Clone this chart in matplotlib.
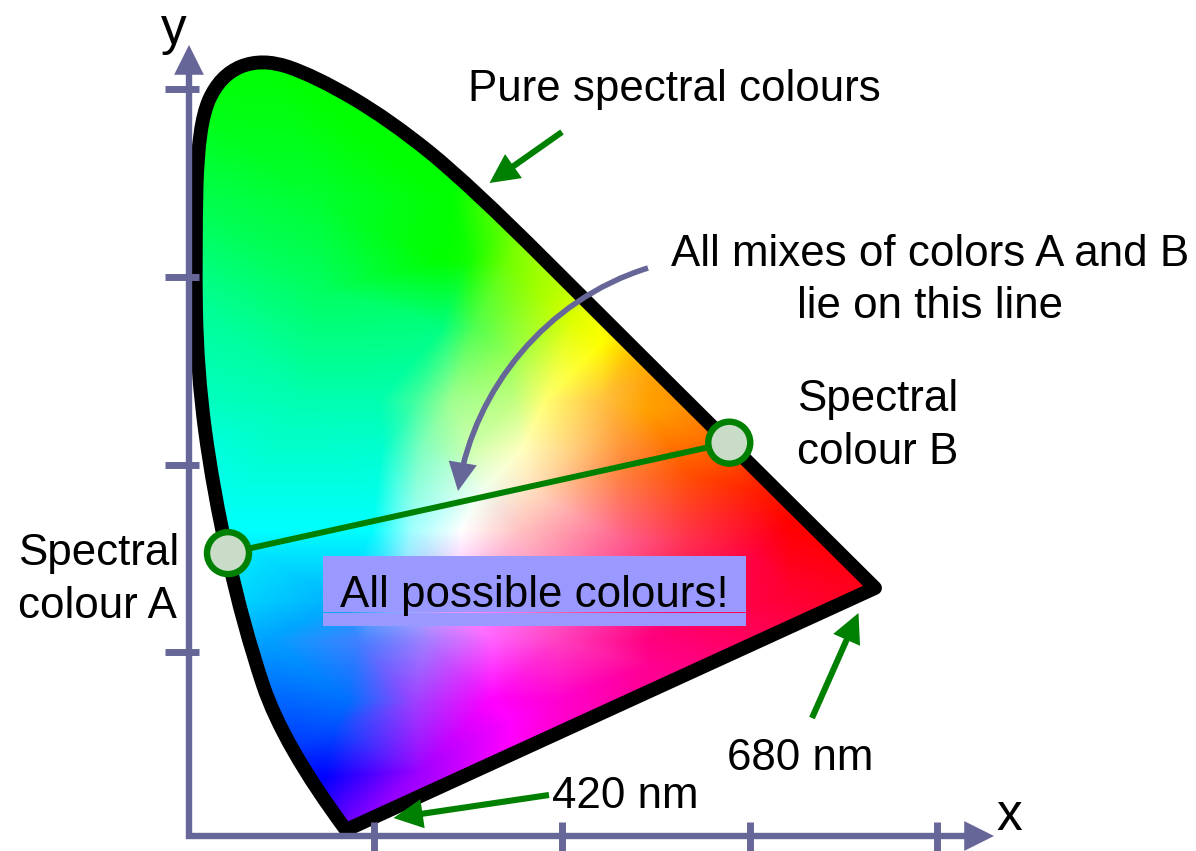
import numpy as np
import matplotlib
matplotlib.use('Agg')
import matplotlib.pyplot as plt
import matplotlib.tri as mtri
from matplotlib.colors import to_rgb
from matplotlib.patches import FancyArrowPatch, PathPatch, Rectangle, Circle
from matplotlib.path import Path

plt.rcParams['font.family'] = ['Liberation Sans', 'DejaVu Sans']

# spectral locus control points, from the 420 nm corner round to 680 nm
locus_x = [.1658, .0975, .0542, .0217, .0043, .0022, .0054, .0293, .0748, .1322, .2134, .3001, .4626, .7389]
locus_y = [.0027, .0949, .2251, .3715, .5016, .6318, .7676, .8216, .8400, .8205, .7728, .7023, .5396, .2652]

x_ticks = [.196, .400, .6035, .806]
y_ticks = [.196, .3986, .6025, .806]

mix_x = [.0379, .581]
mix_y = [.303, .4228]

# colour of the diagram at points (pixel x, pixel y, colour)
colour_points = [
    (265, 60, '#00ff00'), (150, 20, '#00ff00'), (500, 20, '#00ff00'), (190, 100, '#00ff10'), (190, 200, '#00ff50'),
    (190, 290, '#00ff90'), (320, 200, '#00ff30'), (320, 290, '#00ff60'), (450, 200, '#00ff00'), (440, 260, '#00ff00'),
    (467, 260, '#10ff00'), (507, 260, '#70ff00'), (540, 293, '#a8ff00'), (573, 320, '#e0ff00'), (600, 343, '#ffff00'),
    (627, 357, '#ffc000'), (653, 373, '#ffa000'), (687, 407, '#ff9000'), (703, 440, '#ff7000'),
    (473, 327, '#50ff50'), (440, 327, '#00ff80'), (507, 353, '#90ff50'),
    (520, 220, '#80ff00'), (600, 280, '#e0ff00'), (650, 340, '#ffb000'), (700, 380, '#ff9000'), (760, 440, '#ff4000'),
    (750, 100, '#ffa000'),
    (200, 400, '#00ffc0'), (300, 400, '#00ffb0'), (378, 400, '#00ffb0'), (414, 400, '#40ffa0'), (450, 400, '#a0ff90'),
    (512, 400, '#c0ff80'), (544, 400, '#ffff70'), (602, 400, '#ffc040'), (646, 410, '#ffa000'), (620, 440, '#ff9a38'),
    (200, 450, '#00ffe0'), (380, 450, '#00ffd0'), (420, 450, '#80ffc0'), (470, 450, '#d0ffb0'), (520, 450, '#ffffc0'),
    (570, 450, '#ffd080'), (620, 475, '#ff8040'), (687, 473, '#ff5000'), (753, 490, '#ff2000'),
    (480, 490, '#f0fff0'), (530, 490, '#ffe0c0'),
    (215, 530, '#00ffff'), (370, 530, '#00ffff'), (410, 530, '#a0ffff'), (460, 530, '#ffffff'), (520, 530, '#ffc0c0'),
    (620, 540, '#ff6090'), (687, 540, '#ff3050'), (787, 523, '#ff0000'), (753, 557, '#ff0040'), (860, 570, '#ff0010'),
    (225, 600, '#00d8ff'), (340, 600, '#00b0ff'), (400, 600, '#90c0ff'), (460, 600, '#ffa0ff'), (600, 600, '#ff40a0'),
    (787, 590, '#ff0030'),
    (267, 640, '#00a0ff'), (356, 640, '#4080ff'), (423, 640, '#a080ff'), (490, 640, '#ff60ff'), (557, 640, '#ff40c0'),
    (646, 640, '#ff0080'),
    (347, 700, '#0070ff'), (414, 700, '#a040ff'), (490, 700, '#ff00ff'), (557, 700, '#ff00d0'), (650, 665, '#ff0090'),
    (300, 740, '#0040ff'), (333, 727, '#0050ff'), (323, 777, '#0000ff'), (350, 807, '#6000ff'), (350, 830, '#8000ff'),
    (420, 770, '#a000ff'), (510, 720, '#ff00ff'),
    (150, 500, '#00ffff'), (150, 700, '#0080ff'), (150, 860, '#0000ff'), (500, 860, '#ff00ff'), (950, 700, '#ff0040'),
    (950, 520, '#ff0000'),
]


def px(x, y):
    # picture pixel to chromaticity position
    return (x - 193) / 923, (832.5 - y) / 922


def colour_field():
    xs = np.array([p[0] for p in colour_points], dtype=float)
    ys = np.array([p[1] for p in colour_points], dtype=float)
    rgb = np.array([to_rgb(p[2]) for p in colour_points])
    tri = mtri.Triangulation(xs, ys)
    gx, gy = np.meshgrid(np.arange(150, 950, 2.0), np.arange(20, 860, 2.0))
    img = np.zeros(gx.shape + (3,))
    for i in range(3):
        img[..., i] = mtri.LinearTriInterpolator(tri, rgb[:, i])(gx, gy).filled(1)
    return np.clip(img, 0, 1)


def locus_path():
    # quadratic curve pieces with the locus points as control points, closed by the straight purple line
    pts = np.column_stack([locus_x, locus_y])
    verts = [pts[0]]
    codes = [Path.MOVETO]
    for i in range(1, len(pts) - 1):
        end = pts[i + 1] if i == len(pts) - 2 else (pts[i] + pts[i + 1]) / 2
        verts += [pts[i], end]
        codes += [Path.CURVE3, Path.CURVE3]
    verts += [pts[0], pts[0]]
    codes += [Path.LINETO, Path.CLOSEPOLY]
    return Path(verts, codes)


def arrow(ax, start, end, color, lw, scale=14, path=None):
    kw = {'path': path} if path is not None else {'posA': px(*start), 'posB': px(*end)}
    ax.add_patch(FancyArrowPatch(arrowstyle='-|>,head_length=1.0,head_width=0.5', mutation_scale=scale, lw=lw,
                                 color=color, shrinkA=0, shrinkB=0, zorder=6, joinstyle='miter', capstyle='butt', **kw))


def label(ax, x, y, s, size=31.6, ha='left'):
    ax.text(*px(x, y + 3), s, fontsize=size, ha=ha, va='center', color='black', zorder=8)


def main():
    axis_color = '#666699'
    green = '#008000'
    fig = plt.figure(figsize=(11.96, 8.51), dpi=100)
    ax = fig.add_axes([0, 0, 1, 1])

    outline = locus_path()
    e0, n1 = px(150, 860)
    e1, n0 = px(950, 20)
    im = ax.imshow(colour_field(), extent=(e0, e1, n1, n0), aspect='auto', interpolation='bilinear', zorder=1)
    im.set_clip_path(PathPatch(outline, transform=ax.transData))
    ax.add_patch(PathPatch(outline, facecolor='none', edgecolor='black', lw=10, joinstyle='round', zorder=2))

    # box with the thin gap the picture shows near its bottom
    for top, bottom in [(556, 611.5), (612.5, 626)]:
        x0, y0 = px(323, bottom)
        x1, y1 = px(746, top)
        ax.add_patch(Rectangle((x0, y0), x1 - x0, y1 - y0, facecolor='#9999ff', edgecolor='none', zorder=3))

    # mixing line and the two spectral colours
    ax.plot(mix_x, mix_y, color=green, lw=4.3, zorder=4, solid_capstyle='butt')
    for mx, my in zip(mix_x, mix_y):
        ax.add_patch(Circle((mx, my), 21 / 923, facecolor='#c8dcc8', edgecolor=green, lw=4.6, zorder=5))

    # axes
    for t in x_ticks:
        ax.plot([t, t], [px(0, 822)[1], px(0, 851)[1]], color=axis_color, lw=5, zorder=6, solid_capstyle='butt')
    for t in y_ticks:
        ax.plot([px(165, 0)[0], px(199, 0)[0]], [t, t], color=axis_color, lw=5, zorder=6, solid_capstyle='butt')
    arrow(ax, (186, 836), (994, 836), axis_color, 4.6)
    arrow(ax, (189, 839), (189, 45), axis_color, 4.6)

    # pointers
    arrow(ax, (562, 132), (489.5, 183), green, 4.4)
    arrow(ax, (812, 718), (858.5, 613), green, 4.4)
    arrow(ax, (549, 795), (393.5, 818), green, 4.4)
    curve = Path([px(648, 268), px(545, 300), px(475, 390), px(458, 491)],
                 [Path.MOVETO, Path.CURVE4, Path.CURVE4, Path.CURVE4])
    arrow(ax, None, None, axis_color, 4, path=curve)

    label(ax, 468, 87, 'Pure spectral colours')
    label(ax, 671, 251, 'All mixes of colors A and B')
    label(ax, 930, 303, 'lie on this line', ha='center')
    label(ax, 797, 397, 'Spectral')
    label(ax, 797, 450, 'colour B')
    label(ax, 18, 551, 'Spectral')
    label(ax, 18, 604, 'colour A')
    label(ax, 340, 593, 'All possible colours!')
    label(ax, 552, 794, '420 nm')
    label(ax, 727, 756, '680 nm')
    label(ax, 161, 28, 'y', size=37)
    label(ax, 996, 813, 'x', size=37)

    ax.set_xlim(px(0, 0)[0], px(1196, 0)[0])
    ax.set_ylim(px(0, 851)[1], px(0, 0)[1])
    ax.axis('off')
    fig.savefig('out.png', dpi=100, facecolor='white')


if __name__ == '__main__':
    main()
